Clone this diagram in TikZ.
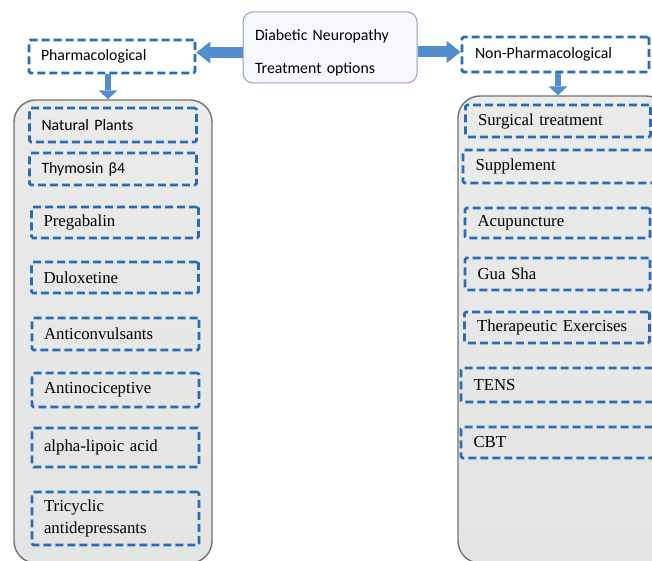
\documentclass[tikz,border=0pt]{standalone}
\usepackage{fontspec}
\setmainfont{Liberation Serif}
\newfontfamily\calibrifont{Carlito}
\usetikzlibrary{arrows.meta, calc}
\definecolor{dashblue}{RGB}{38,108,182}
\definecolor{arrowblue}{RGB}{84,141,205}
\definecolor{panelfill}{RGB}{228,228,228}
\definecolor{panelline}{RGB}{115,115,115}
\definecolor{hubfill}{RGB}{246,248,252}
\definecolor{hubline}{RGB}{140,165,195}
\tikzset{
  sanstext/.style = {font = \calibrifont\fontsize{15.8}{19}\selectfont},
  serifbody/.style = {font = \fontsize{16.8}{22}\selectfont},
  dashbox/.style = {draw = dashblue, line width = 2.7pt, dash pattern = on 8pt off 4pt, rounded corners = 1.5pt, inner xsep = 12pt, inner ysep = 0pt, align = left},
  leftitem/.style = {dashbox, serifbody, text width = 143pt, minimum height = #1},
  leftitem/.default = 32pt,
  rightitem/.style = {dashbox, serifbody, inner xsep = 12.5pt, text width = 160pt, minimum height = #1},
  rightitem/.default = 32pt,
  panel/.style = {draw = panelline, line width = 1.4pt, top color = panelfill!75!white, bottom color = panelfill, rounded corners = 22pt},
  hubbox/.style = {draw = hubline, line width = 1pt, fill = hubfill, rounded corners = 10pt, font = \calibrifont\fontsize{15.8}{33}\selectfont, align = left, text width = 150pt, inner xsep = 12pt, inner ysep = 0pt, minimum height = 71pt},
  bigarrow/.style = {draw = arrowblue, line width = 11pt, -{Triangle[length = 14pt, width = 22pt, line width = 0pt]}},
  smallarrow/.style = {draw = arrowblue, line width = 6.5pt, -{Triangle[length = 9pt, width = 19pt, line width = 0pt]}}
}
\begin{document}
\begin{tikzpicture}[x = 1pt, y = -1pt]
\useasboundingbox (0, 0) rectangle (652, 561);
\node[panel, minimum width = 198pt, minimum height = 463pt] (lpanel) at (113, 331.5) {};
\node[panel, minimum width = 210pt, minimum height = 467pt] (rpanel) at (563, 329.5) {};

\node[hubbox] (hub) at (330, 47.5) {\rule{0pt}{21pt}Diabetic Neuropathy\\Treatment options};
\node[dashbox, sanstext, text width = 142pt, minimum height = 33pt] (pharm) at (112, 56.5) {Pharmacological};
\node[dashbox, sanstext, inner xsep = 13pt, text width = 161pt, minimum height = 35pt] (nonph) at (555.5, 54.5) {Non-Pharmacological};

\node[leftitem = 34pt, sanstext] (plants) at (113, 125) {Natural Plants};
\node[leftitem = 32pt, sanstext] (thymosin) at (113, 169) {Thymosin β4};
\node[leftitem = 31pt] (pregabalin) at (115, 222.5) {Pregabalin};
\node[leftitem = 31pt] (duloxetine) at (115, 277.5) {Duloxetine};
\node[leftitem = 32pt] (anticonv) at (115.5, 334) {Anticonvulsants};
\node[leftitem = 34pt] (antinoci) at (115.5, 390) {Antinociceptive};
\node[leftitem = 39pt] (lipoic) at (115.5, 447.5) {alpha-lipoic acid};
\node[leftitem = 53pt] (tricyclic) at (115.5, 518.5) {Tricyclic\\antidepressants};

\node[rightitem = 32pt] (surgical) at (558, 121) {Surgical treatment};
\node[rightitem = 33pt, text width = 166pt] (supplement) at (558.5, 166.5) {Supplement};
\node[rightitem = 30pt] (acupuncture) at (557.5, 223) {Acupuncture};
\node[rightitem = 32pt] (guasha) at (557.5, 274) {Gua Sha};
\node[rightitem = 31pt] (exercises) at (557, 327.5) {Therapeutic Exercises};
\node[rightitem = 34pt, text width = 168pt] (tens) at (557.5, 385) {TENS};
\node[rightitem = 31pt, text width = 168pt] (cbt) at (557.5, 442.5) {CBT};

\draw[bigarrow] ([yshift = -5pt]hub.west -| hub.west) -- ([yshift = -5pt]hub.west -| pharm.east);
\draw[bigarrow] ([yshift = -4.5pt]hub.east -| hub.east) -- ([yshift = -4.5pt]hub.east -| nonph.west);
\draw[smallarrow] ([xshift = -4pt]pharm.south) -- ([xshift = -4pt]pharm.south |- lpanel.north);
\draw[smallarrow] ([xshift = 2.5pt]nonph.south) -- ([xshift = 2.5pt]nonph.south |- rpanel.north);
\end{tikzpicture}
\end{document}
